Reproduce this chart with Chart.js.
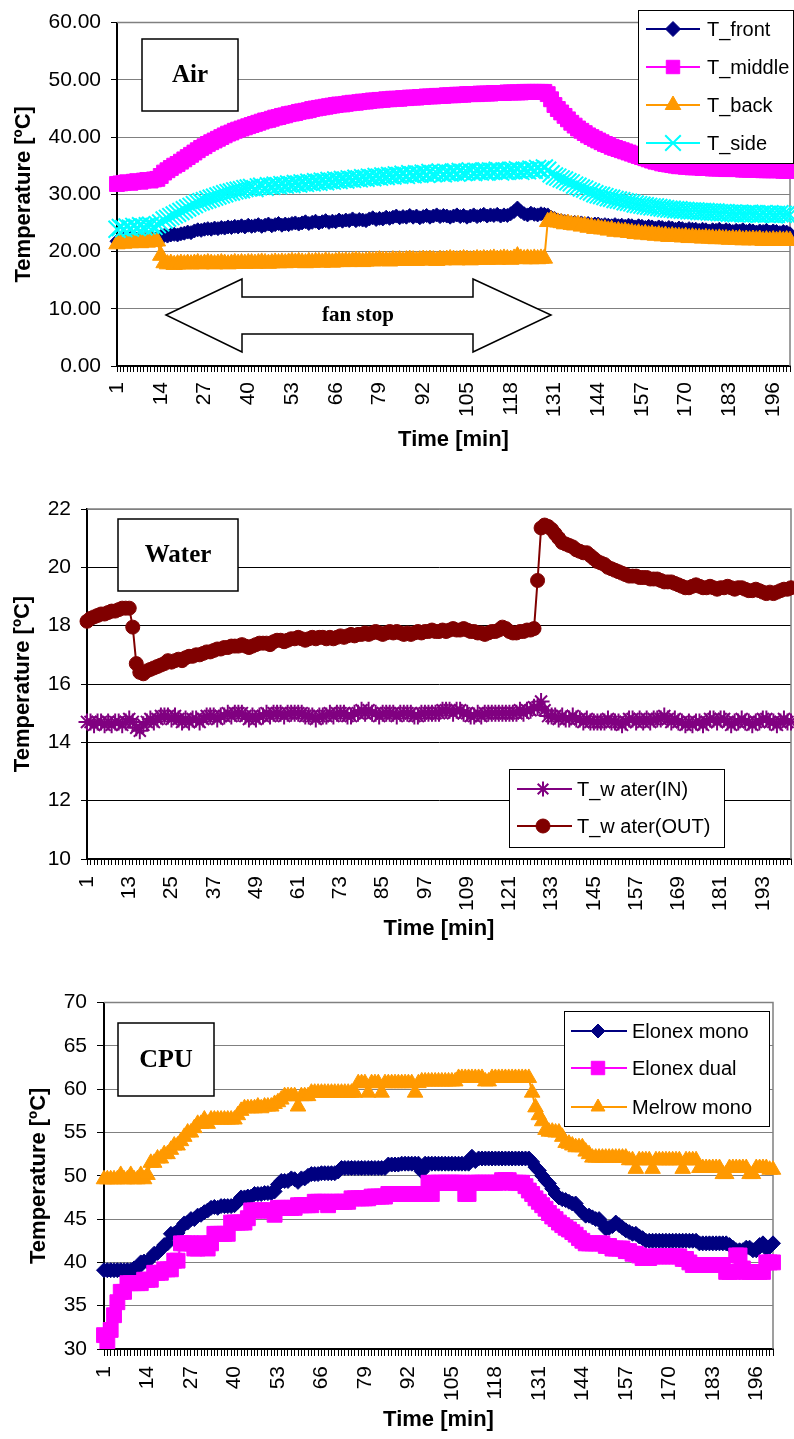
<!DOCTYPE html>
<html>
<head>
<meta charset="utf-8">
<title>Temperature during fan stop - Air, Water, CPU</title>
<script src="https://cdn.jsdelivr.net/npm/chart.js@4.4.1/dist/chart.umd.min.js"></script>
<style>
  html, body { margin: 0; padding: 0; background: #fff; }
  body { width: 794px; height: 1439px; position: relative; overflow: hidden; }
  canvas { position: absolute; left: 0; }
  #airChart { top: 0; }
  #waterChart { top: 480px; }
  #cpuChart { top: 980px; }
</style>
</head>
<body>
<canvas id="airChart" width="794" height="455"></canvas>
<canvas id="waterChart" width="794" height="465"></canvas>
<canvas id="cpuChart" width="794" height="459"></canvas>
<script>
// one reading per minute
const minutes = [];
for (let m = 1; m <= 201; m++) minutes.push(m);

// ---- Air ----
const airFront = [
  21.8, 22.0, 22.2, 21.9, 22.3, 22.1, 22.2, 22.4, 22.1, 22.3,
  22.5, 22.2, 22.4, 22.6, 22.8, 22.7, 22.9, 23.0, 22.9, 23.1,
  23.2, 23.4, 23.3, 23.6, 23.8, 23.7, 23.9, 24.0, 23.9, 24.1,
  24.0, 24.2, 24.1, 24.3, 24.2, 24.4, 24.3, 24.5, 24.3, 24.6,
  24.4, 24.5, 24.7, 24.4, 24.6, 24.8, 24.5, 24.7, 24.9, 24.6,
  24.8, 24.7, 24.9, 25.0, 24.8, 25.0, 25.2, 24.9, 25.1, 25.3,
  25.0, 25.2, 25.4, 25.1, 25.3, 25.2, 25.5, 25.3, 25.5, 25.4,
  25.7, 25.4, 25.6, 25.5, 25.4, 25.7, 25.9, 25.6, 25.8, 25.7,
  26.0, 25.8, 26.0, 26.2, 25.9, 26.1, 26.0, 26.3, 26.0, 26.2,
  25.9, 26.1, 26.3, 26.0, 26.2, 26.4, 26.1, 26.3, 26.2, 26.0,
  26.2, 26.4, 26.1, 26.3, 26.0, 26.2, 26.4, 26.1, 26.3, 26.5,
  26.2, 26.4, 26.3, 26.5, 26.2, 26.4, 26.3, 26.6, 27.0, 27.6,
  27.0, 26.6, 26.4, 26.7, 26.5, 26.4, 26.6, 26.5, 26.4, 26.0,
  25.8, 25.5, 25.4, 25.3, 25.2, 25.0, 25.1, 24.9, 25.0, 24.8,
  24.9, 24.7, 24.8, 24.8, 24.6, 24.7, 24.6, 24.5, 24.7, 24.5,
  24.6, 24.4, 24.6, 24.5, 24.3, 24.5, 24.4, 24.2, 24.4, 24.3,
  24.1, 24.3, 24.2, 24.0, 24.2, 24.1, 23.9, 24.1, 24.0, 23.8,
  24.0, 23.9, 23.9, 23.7, 23.9, 23.8, 23.6, 23.8, 23.7, 23.9,
  23.6, 23.8, 23.7, 23.5, 23.7, 23.6, 23.8, 23.5, 23.7, 23.6,
  23.4, 23.6, 23.5, 23.7, 23.4, 23.6, 23.5, 23.3, 23.5, 23.4,
  23.1
];
const airMiddle = [
  31.8, 31.9, 32.0, 32.1, 32.0, 32.2, 32.3, 32.2, 32.4, 32.5,
  32.4, 32.6, 32.7, 33.2, 33.8, 34.2, 34.6, 35.0, 35.3, 35.7,
  36.1, 36.5, 36.9, 37.3, 37.7, 38.1, 38.4, 38.8, 39.1, 39.4,
  39.7, 40.0, 40.3, 40.6, 40.8, 41.1, 41.3, 41.5, 41.7, 41.9,
  42.1, 42.3, 42.5, 42.7, 42.9, 43.0, 43.2, 43.4, 43.5, 43.7,
  43.8, 44.0, 44.1, 44.2, 44.4, 44.5, 44.6, 44.7, 44.9, 45.0,
  45.1, 45.2, 45.3, 45.4, 45.5, 45.6, 45.7, 45.7, 45.8, 45.9,
  46.0, 46.0, 46.1, 46.2, 46.2, 46.3, 46.4, 46.4, 46.5, 46.5,
  46.6, 46.6, 46.7, 46.7, 46.7, 46.8, 46.8, 46.9, 46.9, 46.9,
  47.0, 47.0, 47.1, 47.1, 47.1, 47.2, 47.2, 47.2, 47.3, 47.3,
  47.3, 47.4, 47.4, 47.4, 47.5, 47.5, 47.5, 47.5, 47.6, 47.6,
  47.6, 47.6, 47.7, 47.7, 47.7, 47.7, 47.8, 47.8, 47.8, 47.8,
  47.8, 47.9, 47.9, 47.9, 47.9, 47.9, 47.9, 47.9, 47.5, 46.6,
  45.6, 44.9, 44.3, 43.7, 43.1, 42.5, 42.0, 41.5, 41.1, 40.7,
  40.3, 40.0, 39.7, 39.4, 39.1, 38.8, 38.6, 38.3, 38.1, 37.9,
  37.7, 37.5, 37.3, 37.1, 36.9, 36.7, 36.5, 36.3, 36.1, 35.9,
  35.7, 35.6, 35.4, 35.3, 35.2, 35.1, 35.0, 34.9, 34.9, 34.8,
  34.8, 34.7, 34.7, 34.7, 34.6, 34.6, 34.6, 34.5, 34.5, 34.5,
  34.5, 34.4, 34.4, 34.4, 34.4, 34.4, 34.3, 34.3, 34.3, 34.3,
  34.3, 34.3, 34.2, 34.2, 34.2, 34.2, 34.2, 34.2, 34.1, 34.1,
  34.1
];
const airBack = [
  21.3, 21.6, 21.4, 21.7, 21.5, 21.8, 21.6, 21.5, 21.8, 21.6,
  21.9, 21.7, 21.8, 19.3, 18.0, 17.8, 17.9, 17.7, 17.8, 17.9,
  17.8, 17.9, 17.8, 17.9, 18.0, 17.8, 17.9, 18.0, 17.9, 17.8,
  17.9, 18.0, 17.9, 17.8, 17.9, 18.0, 17.9, 18.0, 17.9, 18.0,
  18.0, 17.9, 18.0, 18.1, 18.0, 17.9, 18.0, 18.1, 18.0, 18.1,
  18.0, 18.1, 18.2, 18.1, 18.2, 18.1, 18.0, 18.2, 18.1, 18.2,
  18.2, 18.1, 18.3, 18.2, 18.1, 18.2, 18.3, 18.2, 18.3, 18.2,
  18.3, 18.4, 18.3, 18.2, 18.3, 18.4, 18.3, 18.4, 18.5, 18.4,
  18.4, 18.3, 18.5, 18.4, 18.5, 18.4, 18.5, 18.6, 18.5, 18.4,
  18.5, 18.6, 18.5, 18.6, 18.5, 18.4, 18.6, 18.5, 18.6, 18.7,
  18.6, 18.5, 18.6, 18.7, 18.6, 18.5, 18.6, 18.7, 18.6, 18.7,
  18.6, 18.7, 18.8, 18.6, 18.7, 18.8, 18.7, 18.6, 18.8, 19.2,
  18.8, 18.7, 18.8, 18.7, 18.8, 18.7, 18.8, 18.8, 25.2, 25.5,
  25.3, 25.1, 25.0, 24.8, 24.9, 24.7, 24.6, 24.7, 24.4, 24.5,
  24.2, 24.3, 24.0, 24.1, 23.9, 23.9, 23.7, 23.8, 23.5, 23.6,
  23.4, 23.5, 23.3, 23.3, 23.1, 23.2, 23.0, 23.1, 22.9, 23.0,
  22.8, 22.9, 22.7, 22.8, 22.6, 22.7, 22.6, 22.6, 22.5, 22.6,
  22.4, 22.5, 22.4, 22.4, 22.3, 22.4, 22.3, 22.3, 22.2, 22.3,
  22.2, 22.2, 22.1, 22.2, 22.1, 22.2, 22.0, 22.1, 22.0, 22.1,
  22.0, 22.1, 21.9, 22.0, 21.9, 22.0, 21.9, 22.0, 21.9, 22.0,
  21.9
];
const airSide = [
  23.9, 24.2, 24.0, 24.3, 24.1, 24.4, 24.2, 24.5, 24.3, 24.5,
  24.6, 24.4, 24.7, 25.0, 25.5, 25.8, 26.1, 26.4, 26.7, 27.0,
  27.3, 27.6, 27.9, 28.2, 28.5, 28.7, 28.9, 29.1, 29.3, 29.5,
  29.7, 29.9, 30.1, 30.3, 30.4, 30.6, 30.7, 30.8, 31.0, 31.1,
  31.2, 31.0, 31.3, 31.4, 31.2, 31.5, 31.4, 31.6, 31.5, 31.7,
  31.6, 31.8, 31.7, 31.9, 31.8, 32.0, 31.9, 32.1, 32.0, 32.2,
  32.1, 32.3, 32.2, 32.4, 32.3, 32.5, 32.4, 32.6, 32.5, 32.7,
  32.6, 32.8, 32.7, 32.9, 32.8, 33.0, 32.9, 33.1, 33.0, 33.2,
  33.1, 33.3, 33.2, 33.4, 33.3, 33.5, 33.3, 33.6, 33.4, 33.6,
  33.5, 33.7, 33.5, 33.8, 33.6, 33.7, 33.9, 33.6, 33.8, 33.7,
  33.9, 33.7, 34.0, 33.8, 33.9, 34.1, 33.8, 34.0, 33.9, 34.1,
  33.9, 34.1, 34.0, 34.2, 33.9, 34.1, 34.0, 34.2, 34.1, 34.3,
  34.0, 34.2, 34.1, 34.4, 34.2, 34.5, 34.3, 34.6, 34.2, 33.6,
  33.2, 33.0, 32.7, 32.5, 32.2, 32.0, 31.6, 31.4, 31.1, 30.9,
  30.6, 30.4, 30.1, 29.9, 29.8, 29.6, 29.4, 29.3, 29.1, 29.0,
  28.9, 28.7, 28.6, 28.5, 28.3, 28.2, 28.1, 28.0, 27.9, 27.8,
  27.8, 27.7, 27.6, 27.5, 27.4, 27.4, 27.3, 27.3, 27.2, 27.2,
  27.1, 27.1, 27.1, 27.0, 27.0, 27.0, 26.9, 26.9, 26.9, 26.8,
  26.8, 26.8, 26.7, 26.7, 26.6, 26.7, 26.6, 26.6, 26.7, 26.6,
  26.6, 26.5, 26.6, 26.5, 26.6, 26.5, 26.5, 26.6, 26.5, 26.5,
  26.4
];

// ---- Water ----
const waterIn = [
  14.7, 14.7, 14.6, 14.7, 14.7, 14.6, 14.7, 14.6, 14.7, 14.7,
  14.6, 14.7, 14.8, 14.7, 14.5, 14.4, 14.6, 14.7, 14.8, 14.7,
  14.8, 14.9, 14.9, 14.9, 14.8, 14.9, 14.8, 14.7, 14.8, 14.7,
  14.8, 14.8, 14.7, 14.8, 14.9, 14.9, 14.9, 14.8, 14.9, 14.9,
  15.0, 14.9, 15.0, 15.0, 15.0, 14.9, 14.8, 14.9, 14.8, 14.9,
  14.9, 15.0, 14.9, 15.0, 15.0, 15.0, 14.9, 15.0, 15.0, 15.0,
  15.0, 15.0, 14.9, 14.9, 14.9, 14.8, 14.9, 14.9, 14.9, 15.0,
  14.9, 15.0, 15.0, 15.0, 14.9, 14.9, 15.0, 15.0, 15.1, 15.0,
  15.1, 15.0, 15.0, 14.9, 15.0, 15.0, 15.0, 15.0, 14.9, 15.0,
  15.0, 15.0, 15.0, 14.9, 14.9, 15.0, 15.0, 15.0, 15.0, 15.0,
  15.0, 15.1, 15.1, 15.1, 15.0, 15.1, 15.1, 15.0, 15.0, 14.9,
  14.9, 15.0, 14.9, 15.0, 15.0, 15.0, 15.0, 15.0, 15.0, 15.0,
  15.0, 15.0, 15.0, 15.1, 15.0, 15.1, 15.1, 15.2, 15.2, 15.4,
  15.1, 14.9, 14.9, 14.9, 14.8, 14.9, 14.8, 14.8, 14.9, 14.8,
  14.8, 14.7, 14.8, 14.7, 14.7, 14.7, 14.7, 14.7, 14.8, 14.7,
  14.7, 14.7, 14.6, 14.7, 14.8, 14.8, 14.7, 14.8, 14.7, 14.8,
  14.7, 14.8, 14.8, 14.8, 14.9, 14.8, 14.7, 14.8, 14.7, 14.7,
  14.6, 14.7, 14.6, 14.7, 14.7, 14.6, 14.7, 14.8, 14.8, 14.7,
  14.8, 14.8, 14.7, 14.6, 14.7, 14.7, 14.8, 14.7, 14.7, 14.6,
  14.7, 14.7, 14.8, 14.8, 14.7, 14.7, 14.6, 14.7, 14.8, 14.7,
  14.7
];
const waterOut = [
  18.15, 18.25, 18.3, 18.35, 18.4, 18.4, 18.45, 18.5, 18.5, 18.55,
  18.6, 18.6, 18.6, 17.95, 16.7, 16.4, 16.35, 16.45, 16.5, 16.55,
  16.6, 16.65, 16.7, 16.8, 16.75, 16.8, 16.85, 16.8, 16.9, 16.95,
  16.95, 17.0, 17.0, 17.05, 17.1, 17.1, 17.15, 17.2, 17.2, 17.25,
  17.25, 17.3, 17.3, 17.3, 17.35, 17.3, 17.25, 17.3, 17.35, 17.4,
  17.4, 17.4, 17.35, 17.45, 17.5, 17.5, 17.45, 17.5, 17.55, 17.55,
  17.6, 17.55, 17.5, 17.55, 17.6, 17.55, 17.6, 17.6, 17.55, 17.6,
  17.55, 17.6, 17.65, 17.6, 17.65, 17.7, 17.65, 17.7, 17.7, 17.75,
  17.7, 17.75, 17.8, 17.75, 17.7, 17.75, 17.8, 17.75, 17.8, 17.75,
  17.7, 17.75, 17.7, 17.75, 17.8, 17.75, 17.8, 17.8, 17.85, 17.8,
  17.8, 17.85, 17.8, 17.85, 17.9, 17.85, 17.85, 17.9, 17.85, 17.8,
  17.8, 17.75, 17.75, 17.7, 17.75, 17.8, 17.8, 17.85, 17.95, 17.9,
  17.8, 17.75, 17.75, 17.8, 17.8, 17.85, 17.85, 17.9, 19.55, 21.35,
  21.45, 21.4, 21.3, 21.15, 21.0, 20.85, 20.8, 20.75, 20.7, 20.6,
  20.55, 20.5, 20.5, 20.4, 20.3, 20.2, 20.15, 20.1, 20.0, 19.95,
  19.9, 19.85, 19.8, 19.75, 19.7, 19.7, 19.7, 19.65, 19.65, 19.65,
  19.6, 19.6, 19.6, 19.55, 19.5, 19.5, 19.5, 19.45, 19.4, 19.35,
  19.3, 19.3, 19.35, 19.4, 19.35, 19.3, 19.3, 19.35, 19.3, 19.25,
  19.3, 19.3, 19.35, 19.3, 19.25, 19.3, 19.3, 19.25, 19.2, 19.2,
  19.25, 19.2, 19.15, 19.1, 19.15, 19.1, 19.15, 19.2, 19.25, 19.25,
  19.3
];

// ---- CPU ----
const cpuElonexMono = [
  39.1, 39.1, 39.1, 39.1, 39.1, 39.1, 39.1, 39.1, 39.1, 39.3,
  39.3, 40.0, 40.1, 40.1, 40.5, 41.0, 41.1, 41.5, 42.0, 42.2,
  43.3, 43.3, 43.4, 44.0, 44.5, 44.6, 45.0, 45.0, 45.4, 45.5,
  45.8, 46.0, 46.3, 46.4, 46.3, 46.5, 46.5, 46.5, 46.5, 46.6,
  47.0, 47.5, 47.5, 47.6, 47.6, 47.9, 47.9, 47.9, 48.0, 48.0,
  48.0, 48.2, 49.0, 49.4, 49.4, 49.4, 49.7, 49.6, 49.3, 49.7,
  49.7, 50.0, 50.2, 50.2, 50.2, 50.3, 50.3, 50.3, 50.3, 50.3,
  50.5, 50.9, 50.9, 50.9, 50.9, 50.9, 50.9, 50.9, 50.9, 50.9,
  50.9, 50.9, 50.9, 50.9, 50.9, 51.3, 51.3, 51.3, 51.3, 51.4,
  51.4, 51.4, 51.4, 51.4, 51.4, 50.5, 51.4, 51.4, 51.4, 51.4,
  51.4, 51.4, 51.4, 51.4, 51.4, 51.4, 51.4, 51.4, 51.4, 51.4,
  52.2, 51.7, 52.0, 52.0, 52.0, 52.0, 52.0, 52.0, 52.0, 52.0,
  52.0, 52.0, 52.0, 52.0, 52.0, 52.0, 52.0, 52.0, 51.6, 51.0,
  50.6, 50.0, 49.5, 49.1, 48.5, 47.9, 47.5, 47.3, 47.2, 47.0,
  46.8, 46.8, 46.2, 45.8, 45.4, 45.4, 45.2, 45.0, 45.0, 44.5,
  43.9, 44.0, 44.2, 44.6, 44.3, 44.0, 43.7, 43.5, 43.3, 43.3,
  43.0, 42.8, 42.5, 42.5, 42.5, 42.5, 42.5, 42.5, 42.5, 42.5,
  42.5, 42.5, 42.5, 42.5, 42.5, 42.5, 42.5, 42.5, 42.2, 42.2,
  42.2, 42.2, 42.2, 42.2, 42.2, 42.2, 42.2, 42.0, 41.7, 41.4,
  41.4, 41.4, 41.7, 41.7, 41.4, 41.4, 42.0, 42.2, 41.6, 41.8,
  42.2
];
const cpuElonexDual = [
  31.6, 30.7, 32.2, 33.9, 35.4, 36.6, 36.6, 37.6, 37.6, 37.6,
  37.6, 37.6, 38.0, 38.0, 38.0, 38.8, 38.8, 38.8, 39.2, 39.2,
  39.2, 40.2, 40.2, 42.2, 42.2, 42.2, 42.2, 41.6, 41.6, 42.2,
  42.2, 41.6, 42.2, 43.3, 43.3, 43.3, 43.3, 43.3, 44.6, 44.6,
  44.6, 44.6, 44.6, 45.1, 46.0, 46.0, 46.0, 46.0, 46.0, 46.0,
  46.0, 45.5, 46.3, 46.3, 46.3, 46.3, 46.3, 46.3, 46.6, 46.6,
  46.6, 46.6, 46.6, 47.0, 47.0, 47.0, 47.0, 46.6, 47.0, 47.0,
  47.0, 47.0, 47.0, 47.0, 47.4, 47.4, 47.4, 47.4, 47.4, 47.4,
  47.6, 47.6, 47.6, 47.6, 47.6, 47.9, 47.9, 47.9, 47.9, 47.9,
  47.9, 47.9, 47.9, 47.9, 47.9, 47.9, 47.9, 49.2, 47.9, 49.2,
  49.2, 49.2, 49.2, 49.2, 49.2, 49.2, 49.2, 49.2, 47.9, 47.9,
  49.2, 49.2, 49.2, 49.2, 49.2, 49.2, 49.2, 49.2, 49.2, 49.5,
  49.5, 49.5, 49.2, 49.2, 49.2, 49.2, 48.8, 48.3, 47.9, 47.4,
  47.0, 46.6, 46.2, 45.7, 45.3, 45.0, 44.6, 44.3, 44.0, 43.8,
  43.5, 43.2, 42.8, 42.5, 42.2, 42.2, 42.2, 42.2, 42.2, 42.2,
  41.9, 41.9, 41.6, 41.6, 41.6, 41.6, 41.3, 41.3, 41.0, 41.0,
  40.8, 40.5, 40.5, 40.5, 40.7, 40.7, 40.7, 40.7, 40.7, 40.7,
  40.7, 40.7, 40.7, 40.4, 40.4, 40.0, 39.7, 39.7, 39.7, 39.7,
  39.7, 39.7, 39.7, 39.7, 39.7, 39.7, 38.9, 38.9, 38.9, 40.8,
  40.8, 39.3, 38.9, 38.9, 38.9, 38.9, 38.9, 38.9, 40.0, 40.0,
  40.0
];
const cpuMelrowMono = [
  49.6, 49.6, 49.6, 49.6, 49.6, 50.1, 49.6, 49.6, 50.1, 49.6,
  49.6, 50.1, 49.6, 50.1, 51.5, 51.5, 52.0, 52.0, 52.5, 52.5,
  53.0, 53.5, 53.5, 54.0, 54.5, 55.0, 55.0, 55.5, 56.0, 56.0,
  56.5, 56.0, 56.5, 56.5, 56.5, 56.5, 56.5, 56.5, 56.5, 56.5,
  57.0, 57.5, 57.8, 57.8, 57.8, 57.8, 58.0, 57.8, 58.0, 58.0,
  58.0, 58.3, 58.5, 58.8, 59.2, 59.2, 59.2, 59.2, 58.0, 59.2,
  59.2, 59.2, 59.6, 59.6, 59.6, 59.6, 59.6, 59.6, 59.6, 59.6,
  59.6, 59.6, 59.6, 59.6, 59.6, 59.6, 60.7, 60.7, 60.7, 59.6,
  60.7, 60.7, 60.7, 59.6, 60.7, 60.7, 60.7, 60.7, 60.7, 60.7,
  60.7, 60.7, 60.7, 59.6, 60.7, 60.9, 60.9, 60.9, 60.9, 60.9,
  60.9, 60.9, 60.9, 60.9, 60.9, 60.9, 61.3, 61.3, 61.3, 61.3,
  61.3, 61.3, 61.3, 61.3, 60.9, 60.9, 61.3, 61.3, 61.3, 61.3,
  61.3, 61.3, 61.3, 61.3, 61.3, 61.3, 61.3, 61.3, 59.6, 57.9,
  57.0, 56.3, 55.3, 55.1, 55.1, 55.0, 55.0, 54.5, 53.8, 53.7,
  53.5, 53.3, 53.3, 53.3, 52.8, 52.5, 52.1, 52.1, 52.1, 52.1,
  52.1, 52.1, 52.1, 52.1, 52.1, 52.1, 52.1, 51.8, 51.8, 50.8,
  51.8, 51.8, 51.8, 51.8, 50.8, 51.8, 51.8, 51.8, 51.8, 51.8,
  51.8, 51.8, 51.8, 50.8, 51.8, 51.8, 51.8, 51.8, 50.9, 50.9,
  50.9, 50.9, 50.9, 50.9, 50.9, 50.2, 50.2, 50.9, 50.9, 50.9,
  50.9, 50.9, 50.9, 50.2, 50.2, 50.9, 50.9, 50.9, 50.9, 50.7,
  50.7
];

const NAVY = '#000080', MAGENTA = '#FF00FF', ORANGE = '#FF9900', CYAN = '#00FFFF';
const PURPLE = '#800080', MAROON = '#800000';

Chart.defaults.font.family = '"Liberation Sans", Arial, sans-serif';
Chart.defaults.color = '#000';

function drawMarker(ctx, style, x, y, r, color, lw) {
  ctx.save();
  ctx.fillStyle = color; ctx.strokeStyle = color; ctx.lineWidth = lw;
  ctx.beginPath();
  if (style === 'rectRot') {
    ctx.moveTo(x - r, y); ctx.lineTo(x, y - r); ctx.lineTo(x + r, y); ctx.lineTo(x, y + r); ctx.closePath(); ctx.fill();
  } else if (style === 'rect') {
    const s = r * Math.SQRT1_2; ctx.rect(x - s, y - s, 2 * s, 2 * s); ctx.fill();
  } else if (style === 'triangle') {
    for (let k = 0; k < 3; k++) {
      const a = k * 2 * Math.PI / 3;
      const px = x + Math.sin(a) * r, py = y - Math.cos(a) * r;
      if (k === 0) ctx.moveTo(px, py); else ctx.lineTo(px, py);
    }
    ctx.closePath(); ctx.fill();
  } else if (style === 'circle') {
    ctx.arc(x, y, r, 0, 2 * Math.PI); ctx.fill();
  } else {
    const d = r * Math.SQRT1_2;
    ctx.moveTo(x - d, y - d); ctx.lineTo(x + d, y + d);
    ctx.moveTo(x + d, y - d); ctx.lineTo(x - d, y + d);
    if (style === 'star') { ctx.moveTo(x, y - r); ctx.lineTo(x, y + r); ctx.moveTo(x - r, y); ctx.lineTo(x + r, y); }
  }
  ctx.stroke();
  ctx.restore();
}

// frame, label box, legend box and the fan stop arrow
const decor = {
  id: 'decor',
  beforeDatasetsDraw(chart) {
    const { ctx, chartArea: a } = chart;
    ctx.save();
    ctx.strokeStyle = '#808080'; ctx.lineWidth = 1.5;
    ctx.beginPath(); ctx.moveTo(a.left, a.top); ctx.lineTo(a.right, a.top); ctx.lineTo(a.right, a.bottom); ctx.stroke();
    ctx.restore();
  },
  afterDatasetsDraw(chart, args, o) {
    const ctx = chart.ctx;
    ctx.save();
    if (o.arrow) {
      const p = o.arrow.points;
      ctx.beginPath();
      p.forEach((q, i) => i ? ctx.lineTo(q[0], q[1]) : ctx.moveTo(q[0], q[1]));
      ctx.closePath();
      ctx.fillStyle = '#fff'; ctx.fill();
      ctx.strokeStyle = '#000'; ctx.lineWidth = 1.5; ctx.stroke();
      ctx.fillStyle = '#000'; ctx.font = 'bold 21px "Liberation Serif", "Times New Roman", serif';
      ctx.textAlign = 'center'; ctx.textBaseline = 'middle';
      ctx.fillText(o.arrow.text, o.arrow.tx, o.arrow.ty);
    }
    if (o.tag) {
      const t = o.tag;
      ctx.fillStyle = '#fff'; ctx.fillRect(t.x, t.y, t.w, t.h);
      ctx.strokeStyle = '#000'; ctx.lineWidth = 1.5; ctx.strokeRect(t.x, t.y, t.w, t.h);
      ctx.fillStyle = '#000'; ctx.font = 'bold ' + t.size + 'px "Liberation Serif", "Times New Roman", serif';
      ctx.textAlign = 'center'; ctx.textBaseline = 'middle';
      ctx.fillText(t.text, t.x + t.w / 2, t.y + t.h / 2 + 1);
    }
    if (o.legend) {
      const L = o.legend;
      ctx.fillStyle = '#fff'; ctx.fillRect(L.x, L.y, L.w, L.h);
      ctx.strokeStyle = '#000'; ctx.lineWidth = 1; ctx.strokeRect(L.x + 0.5, L.y + 0.5, L.w, L.h);
      chart.data.datasets.forEach((ds, i) => {
        const y = L.rows[i];
        ctx.strokeStyle = ds.borderColor; ctx.lineWidth = 2;
        ctx.beginPath(); ctx.moveTo(L.x + L.line[0], y); ctx.lineTo(L.x + L.line[1], y); ctx.stroke();
        drawMarker(ctx, ds.pointStyle, L.x + L.mark, y, L.radius[i], ds.borderColor, ds.pointBorderWidth);
        ctx.fillStyle = '#000'; ctx.font = '20px "Liberation Sans", Arial, sans-serif';
        ctx.textAlign = 'left'; ctx.textBaseline = 'middle';
        ctx.fillText(ds.label, L.x + L.text, y + 1);
      });
    }
    ctx.restore();
  }
};

function series(label, data, color, style, radius, lw, order) {
  return {
    label, data, order,
    borderColor: color, backgroundColor: color, borderWidth: 2,
    pointStyle: style, pointRadius: radius,
    pointBackgroundColor: color, pointBorderColor: color, pointBorderWidth: lw,
    tension: 0
  };
}

function xAxis(step, height, tickLen, pad, titlePad) {
  return {
    type: 'category', offset: false,
    afterFit: s => { s.height = height; s.paddingLeft = 0; s.paddingRight = 0; },
    grid: { drawOnChartArea: false, drawTicks: true, tickLength: tickLen, color: '#000', lineWidth: 1 },
    border: { color: '#000', width: 2 },
    ticks: {
      autoSkip: false, maxRotation: 90, minRotation: 90, padding: pad, font: { size: 21 },
      callback: (v, i) => i % step === 0 ? String(minutes[i]) : ''
    },
    title: { display: true, text: 'Time [min]', font: { size: 22, weight: 'bold' }, padding: { top: 0, bottom: titlePad } }
  };
}

function yAxis(min, max, step, digits, width, tickLen, gridColor, titlePad) {
  return {
    min, max,
    afterFit: s => { s.width = width; },
    grid: { color: gridColor, lineWidth: 1, tickLength: tickLen, tickColor: '#000' },
    border: { color: '#000', width: 2 },
    ticks: { stepSize: step, padding: 10, font: { size: 21 }, callback: v => v.toFixed(digits) },
    title: { display: true, text: 'Temperature [ºC]', font: { size: 22, weight: 'bold' }, padding: { top: titlePad, bottom: 0 } }
  };
}

function baseOptions(padding, x, y, decorOpts) {
  return {
    responsive: false, animation: false, events: [],
    layout: { padding, autoPadding: false },
    plugins: { legend: { display: false }, tooltip: { enabled: false }, decor: decorOpts },
    scales: { x, y }
  };
}

new Chart(document.getElementById('airChart'), {
  type: 'line',
  data: {
    labels: minutes,
    datasets: [
      series('T_front', airFront, NAVY, 'rectRot', 7, 1, 0),
      series('T_middle', airMiddle, MAGENTA, 'rect', 10.5, 1, -1),
      series('T_back', airBack, ORANGE, 'triangle', 9.5, 1, -2),
      series('T_side', airSide, CYAN, 'crossRot', 12, 2, -3)
    ]
  },
  options: baseOptions(
    { top: 17, right: 4, left: 0, bottom: 0 },
    xAxis(13, 89, 6, 10, 2),
    yAxis(0, 60, 10, 2, 117, 6, '#808080', 11),
    {
      tag: { x: 142, y: 39, w: 96, h: 72, text: 'Air', size: 25 },
      legend: { x: 638, y: 10, w: 155, h: 153, rows: [29, 67, 105, 143], line: [8, 62], mark: 35, text: 69, radius: [7.5, 9.5, 9, 11] },
      arrow: {
        points: [[166, 315], [242, 279], [242, 297], [473, 297], [473, 279], [551, 315], [473, 352], [473, 334], [242, 334], [242, 352]],
        text: 'fan stop', tx: 358, ty: 316
      }
    }
  ),
  plugins: [decor]
});

new Chart(document.getElementById('waterChart'), {
  type: 'line',
  data: {
    labels: minutes,
    datasets: [
      series('T_w ater(IN)', waterIn, PURPLE, 'star', 8.5, 2, 0),
      series('T_w ater(OUT)', waterOut, MAROON, 'circle', 7, 1, -1)
    ]
  },
  options: baseOptions(
    { top: 29, right: 3, left: 0, bottom: 0 },
    xAxis(12, 86, 6, 11, 3),
    yAxis(10, 22, 2, 0, 87, 6, c => (c.tick && c.tick.value === 22) ? '#808080' : '#000', 10),
    {
      tag: { x: 118, y: 39, w: 120, h: 72, text: 'Water', size: 25 },
      legend: { x: 509, y: 289, w: 215, h: 78, rows: [309, 346], line: [8, 63], mark: 34, text: 68, radius: [7.5, 7] }
    }
  ),
  plugins: [decor]
});

new Chart(document.getElementById('cpuChart'), {
  type: 'line',
  data: {
    labels: minutes,
    datasets: [
      series('Elonex mono', cpuElonexMono, NAVY, 'rectRot', 7.5, 1, 0),
      series('Elonex dual', cpuElonexDual, MAGENTA, 'rect', 10.5, 1, -1),
      series('Melrow mono', cpuMelrowMono, ORANGE, 'triangle', 9, 1, -2)
    ]
  },
  options: baseOptions(
    { top: 21, right: 21, left: 0, bottom: 0 },
    xAxis(13, 90, 7, 10, 6),
    yAxis(30, 70, 5, 0, 104, 7, '#808080', 26),
    {
      tag: { x: 118, y: 43, w: 96, h: 73, text: 'CPU', size: 26 },
      legend: { x: 564, y: 31, w: 205, h: 115, rows: [51, 88, 127], line: [7, 63], mark: 34, text: 68, radius: [7, 9.5, 8] }
    }
  ),
  plugins: [decor]
});
</script>
</body>
</html>
